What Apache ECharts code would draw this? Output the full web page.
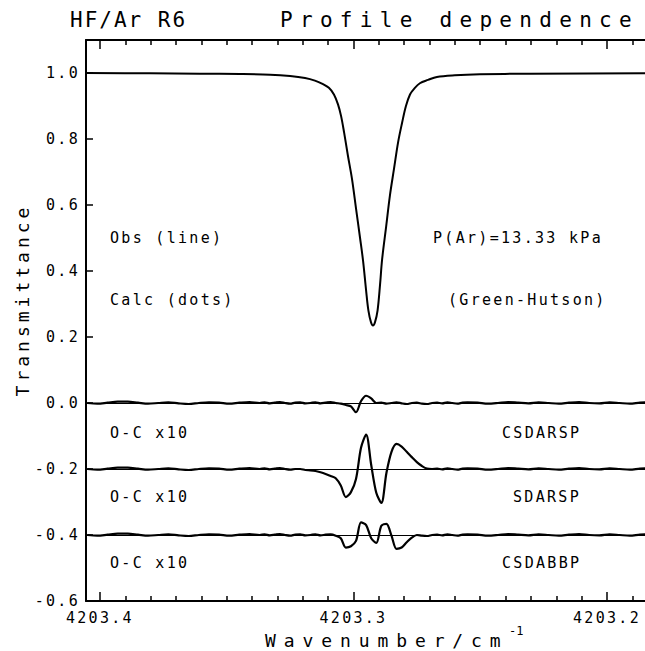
<!DOCTYPE html>
<html><head><meta charset="utf-8">
<script src="https://cdn.jsdelivr.net/npm/echarts@6/dist/echarts.min.js"></script>
<style>html,body{margin:0;padding:0;background:#fff;overflow:hidden}#c{width:645px;height:651px;overflow:hidden}</style>
</head><body><div id="c"></div>
<script>
// ---------------- data ----------------
const titleLeft = 'HF/Ar R6';
const titleRight = 'Profile dependence';
const yAxisTitle = 'Transmittance';
const xAxisTitle = 'Wavenumber/cm';
const xAxisTitleSup = '-1';
const leftNotes = ['Obs (line)', 'Calc (dots)'];
const rightNotes = ['P(Ar)=13.33 kPa', '(Green-Hutson)'];
const residualLabel = 'O-C x10';
const residualNames = ['CSDARSP', 'SDARSP', 'CSDABBP'];
const residualOffsets = [0, -0.2, -0.4];

const xMajorTicks = [4203.2, 4203.3, 4203.4];
const xMinorTicks = [4203.17, 4203.18, 4203.19, 4203.21, 4203.22, 4203.23, 4203.24, 4203.25, 4203.26, 4203.27, 4203.28, 4203.29,
                     4203.31, 4203.32, 4203.33, 4203.34, 4203.35, 4203.36, 4203.37, 4203.38, 4203.39];
const yTicks = [-0.6, -0.4, -0.2, 0.0, 0.2, 0.4, 0.6, 0.8, 1.0];

// observed transmittance profile
const obsWn = [4203.4055, 4203.3803, 4203.3606, 4203.3448, 4203.3329, 4203.3250, 4203.3191, 4203.3152, 4203.3120, 4203.3097,
               4203.3077, 4203.3061, 4203.3049, 4203.3037, 4203.3022, 4203.3006, 4203.2990, 4203.2974, 4203.2962, 4203.2950,
               4203.2941, 4203.2931, 4203.2923, 4203.2915, 4203.2905, 4203.2895, 4203.2887, 4203.2871, 4203.2856, 4203.2840,
               4203.2824, 4203.2808, 4203.2793, 4203.2777, 4203.2761, 4203.2738, 4203.2706, 4203.2671, 4203.2600, 4203.2501,
               4203.2304, 4203.1850, 4203.1650];
const obsT  = [1.000, 0.999, 0.998, 0.997, 0.995, 0.991, 0.985, 0.977, 0.966, 0.955,
               0.935, 0.905, 0.870, 0.820, 0.750, 0.680, 0.590, 0.500, 0.430, 0.340,
               0.280, 0.245, 0.235, 0.245, 0.280, 0.360, 0.435, 0.535, 0.630, 0.710,
               0.790, 0.850, 0.900, 0.935, 0.952, 0.969, 0.979, 0.988, 0.993, 0.996,
               0.998, 0.999, 0.999];

// residual (O-C x10) wavenumbers
const resWn = [4203.405, 4203.401, 4203.397, 4203.393, 4203.389, 4203.385, 4203.381, 4203.377, 4203.373, 4203.369,
               4203.365, 4203.361, 4203.357, 4203.353, 4203.349, 4203.345, 4203.341, 4203.337,
               4203.335, 4203.333, 4203.331, 4203.329, 4203.327, 4203.325, 4203.323, 4203.321, 4203.319, 4203.317,
               4203.315, 4203.313, 4203.311, 4203.309, 4203.307, 4203.305, 4203.303, 4203.301, 4203.299, 4203.297,
               4203.295, 4203.293, 4203.291, 4203.289, 4203.287, 4203.285, 4203.283, 4203.281, 4203.279, 4203.277,
               4203.275, 4203.273, 4203.271, 4203.269, 4203.267, 4203.265, 4203.263, 4203.261, 4203.259, 4203.257,
               4203.255,
               4203.251, 4203.247, 4203.243, 4203.239, 4203.235, 4203.231, 4203.227, 4203.223, 4203.219, 4203.215,
               4203.211, 4203.207, 4203.203, 4203.199, 4203.195, 4203.191, 4203.187, 4203.183, 4203.179, 4203.175,
               4203.171, 4203.167];
const resCSDARSP = [0.000, -0.002, 0.001, 0.004, 0.004, 0.001, -0.002, 0.000, 0.002, -0.001,
                    -0.003, 0.000, 0.002, 0.001, -0.002, 0.001, 0.003, 0.000,
                    0.002, -0.001, 0.001, 0.003, 0.000, -0.002, 0.001, 0.002, -0.001, 0.000,
                    0.002, -0.001, 0.001, 0.003, 0.000, -0.002, -0.006, -0.010, -0.028, 0.006,
                    0.022, 0.014, 0.000, 0.001, -0.002, 0.000, 0.002, -0.001, -0.003, 0.000,
                    0.001, -0.002, -0.003, 0.000, 0.001, -0.001, 0.002, 0.000, -0.002, 0.001,
                    0.002,
                    0.001, -0.002, 0.000, 0.003, 0.001, -0.001, 0.002, 0.000, -0.002, 0.001,
                    0.003, 0.000, -0.001, 0.002, 0.000, -0.002, 0.001, 0.002, 0.000, -0.001,
                    0.001, 0.000];
const resSDARSP = [0.000, -0.002, 0.001, 0.004, 0.004, 0.001, -0.002, 0.000, 0.002, -0.001,
                   -0.003, 0.000, 0.002, 0.001, -0.002, 0.001, 0.003, 0.000,
                   0.002, -0.001, 0.001, 0.003, 0.000, -0.002, 0.000, 0.000, -0.003, -0.004,
                   -0.006, -0.010, -0.015, -0.021, -0.028, -0.050, -0.085, -0.070, -0.030, 0.065,
                   0.104, 0.012, -0.072, -0.103, -0.012, 0.052, 0.076, 0.068, 0.052, 0.036,
                   0.021, 0.009, 0.001, 0.000, 0.001, -0.001, 0.002, 0.000, -0.002, 0.001,
                   0.002,
                   0.001, -0.002, 0.000, 0.003, 0.001, -0.001, 0.002, 0.000, -0.002, 0.001,
                   0.003, 0.000, -0.001, 0.002, 0.000, -0.002, 0.001, 0.002, 0.000, -0.001,
                   0.001, 0.000];
const resCSDABBP = [0.000, -0.002, 0.001, 0.004, 0.004, 0.001, -0.002, 0.000, 0.002, -0.001,
                    -0.003, 0.000, 0.002, 0.001, -0.002, 0.001, 0.003, 0.000,
                    0.002, -0.001, 0.001, 0.003, 0.000, -0.002, 0.001, 0.002, -0.001, 0.000,
                    0.002, -0.001, 0.001, 0.002, -0.002, -0.010, -0.038, -0.034, -0.018, 0.038,
                    0.030, -0.010, -0.024, 0.028, 0.034, -0.002, -0.042, -0.038, -0.022, -0.008,
                    0.000, -0.002, -0.003, 0.000, 0.001, -0.001, 0.002, 0.000, -0.002, 0.001,
                    0.002,
                    0.001, -0.002, 0.000, 0.003, 0.001, -0.001, 0.002, 0.000, -0.002, 0.001,
                    0.003, 0.000, -0.001, 0.002, 0.000, -0.002, 0.001, 0.002, 0.000, -0.001,
                    0.001, 0.000];
const residuals = [resCSDARSP, resSDARSP, resCSDABBP];

// ---------------- chart ----------------
const FONT = '"DejaVu Sans Mono", monospace';
const X_MAX = 4203.4055, X_MIN = 4203.1641;
const Y_MIN = -0.6, Y_MAX = 1.1;
const BLACK = '#000';

const chart = echarts.init(document.getElementById('c'), null, {renderer: 'svg', width: 645, height: 651});

function xAxisCfg(pos, ticks, len, showLine, showLabel) {
  return {
    type: 'value', position: pos, min: X_MIN, max: X_MAX, inverse: true, gridIndex: 0,
    axisLine: {show: showLine, onZero: false, lineStyle: {color: BLACK, width: 2}},
    axisTick: {show: true, inside: true, length: len, customValues: ticks, lineStyle: {color: BLACK, width: 1.5}},
    axisLabel: showLabel ? {show: true, customValues: ticks, margin: 9, color: BLACK, fontFamily: FONT, fontSize: 15,
                            formatter: v => v.toFixed(1)} : {show: false},
    splitLine: {show: false}
  };
}

function txt(text, x, y, size, align, rot) {
  return {type: 'text', x: x, y: y, rotation: rot || 0, silent: true,
          style: {text: text, x: 0, y: 0, fill: BLACK, fontFamily: FONT, fontSize: size,
                  textAlign: align || 'left', align: align || 'left',
                  textVerticalAlign: 'middle', verticalAlign: 'middle'}};
}

const series = [{
  type: 'line', name: 'Obs', xAxisIndex: 0, yAxisIndex: 0,
  data: obsWn.map((w, i) => [w, obsT[i]]),
  smooth: 0.35, showSymbol: false, symbol: 'none',
  lineStyle: {color: BLACK, width: 2}, animation: false, z: 5
}];
residuals.forEach((arr, k) => {
  series.push({
    type: 'line', name: residualNames[k], xAxisIndex: 0, yAxisIndex: 0,
    data: resWn.map((w, i) => [w, arr[i] + residualOffsets[k]]),
    smooth: 0.3, showSymbol: false, symbol: 'none',
    lineStyle: {color: BLACK, width: 2.2}, animation: false, z: 5,
    markLine: {silent: true, symbol: ['none', 'none'], animation: false, label: {show: false},
               lineStyle: {color: BLACK, width: 1, type: 'solid'},
               data: [{yAxis: residualOffsets[k]}]}
  });
});

const graphics = [
  txt(titleLeft, 70, 20, 21),
  txt(titleRight, 280, 20, 21),
  txt(yAxisTitle, 22, 300, 18, 'center', Math.PI / 2),
  txt(xAxisTitle, 265, 640, 18),
  txt(xAxisTitleSup, 509, 631, 12),
  txt(leftNotes[0], 110, 238, 15),
  txt(leftNotes[1], 110, 300, 15),
  txt(rightNotes[0], 433, 238, 15),
  txt(rightNotes[1], 448, 300, 15)
];
const labelRows = [433, 497, 563];
const nameStarts = [502, 513, 502];
labelRows.forEach((y, k) => {
  graphics.push(txt(residualLabel, 110, y, 15));
  graphics.push(txt(residualNames[k], nameStarts[k], y, 15));
});

const option = {
  animation: false,
  backgroundColor: '#fff',
  grid: {left: 86, top: 40, width: 612, height: 561, containLabel: false, outerBoundsMode: 'none'},
  xAxis: [
    xAxisCfg('bottom', xMajorTicks, 9, true, true),
    xAxisCfg('bottom', xMinorTicks, 5, false, false),
    xAxisCfg('top', xMajorTicks, 9, true, false),
    xAxisCfg('top', xMinorTicks, 5, false, false)
  ],
  yAxis: [{
    type: 'value', min: Y_MIN, max: Y_MAX, position: 'left',
    axisLine: {show: true, onZero: false, lineStyle: {color: BLACK, width: 2}},
    axisTick: {show: true, inside: true, length: 7, customValues: yTicks, lineStyle: {color: BLACK, width: 1.5}},
    axisLabel: {show: true, customValues: yTicks, margin: 6, color: BLACK, fontFamily: FONT, fontSize: 15,
                formatter: v => v.toFixed(1)},
    splitLine: {show: false}
  }],
  series: series,
  graphic: graphics
};

// wide letter spacing of the original plotting font
const LS = {'HF/Ar R6': 2.0, 'Profile dependence': 7.3, 'Transmittance': 4, 'Wavenumber/cm': 7.9, '-1': 0};
function applyLS() {
  document.querySelectorAll('#c svg text').forEach(t => {
    const s = t.textContent;
    const v = (s in LS) ? LS[s] : 2.3;
    t.setAttribute('letter-spacing', v);
  });
}
chart.setOption(option);
applyLS();
chart.on('finished', applyLS);
setTimeout(applyLS, 30);
</script></body></html>
